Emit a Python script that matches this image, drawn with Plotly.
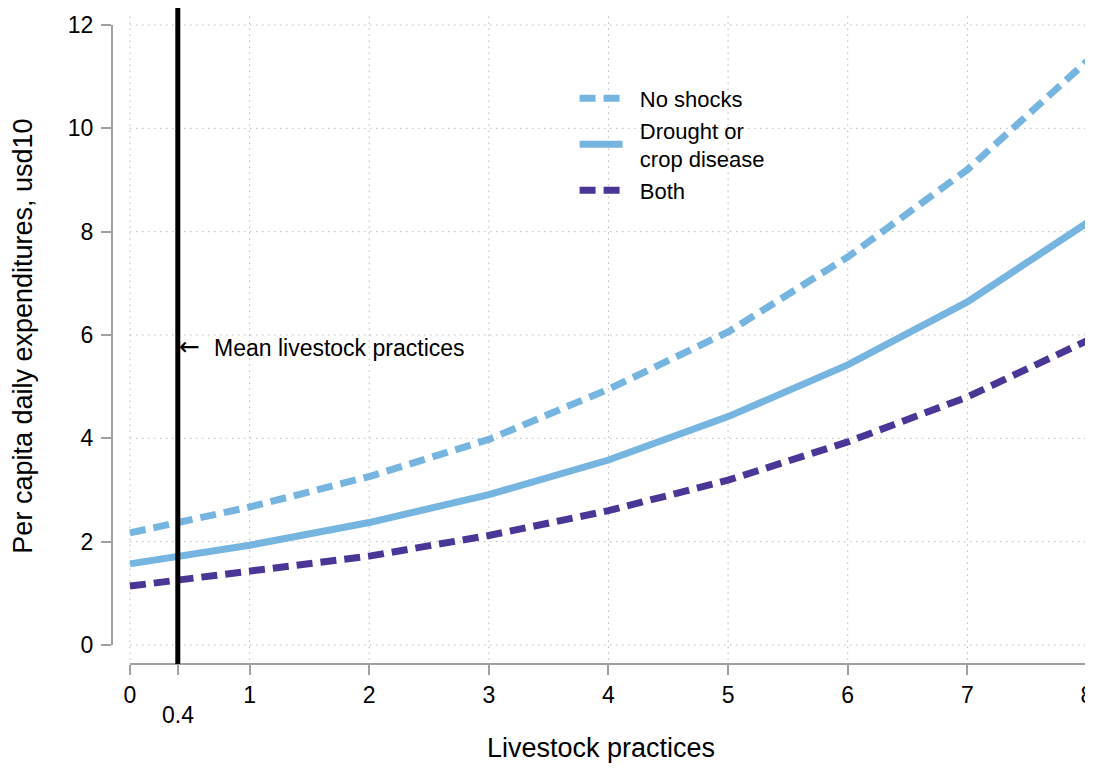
import plotly.graph_objects as go

# ---- data ----
x_vals = [0, 1, 2, 3, 4, 5, 6, 7, 8]
no_shocks = [2.17, 2.67, 3.26, 3.98, 4.95, 6.06, 7.51, 9.20, 11.30]
drought = [1.57, 1.93, 2.37, 2.91, 3.58, 4.42, 5.42, 6.64, 8.17]
both = [1.14, 1.42, 1.72, 2.12, 2.60, 3.19, 3.93, 4.80, 5.89]
series_names = ["No shocks", "Drought or<br>crop disease", "Both"]

x_ticks = [0, 1, 2, 3, 4, 5, 6, 7, 8]
y_ticks = [0, 2, 4, 6, 8, 10, 12]
mean_x = 0.4
mean_label = "Mean livestock practices"
mean_label_y = 5.75
x_title = "Livestock practices"
y_title = "Per capita daily expenditures, usd10"

# ---- styles ----
FONT = "Liberation Sans, Arial, sans-serif"
LIGHT = "#76b5e0"
DARK = "#4a3696"
AXIS_COL = "#a0a0a0"
GRID_COL = "#b8b8b8"
PAD = "\u00a0\u00a0"

def pad_name(n):
    return "<br>".join(PAD + part for part in n.split("<br>"))

fig = go.Figure()
fig.add_trace(go.Scatter(x=x_vals, y=no_shocks, mode="lines", name=pad_name(series_names[0]),
                         line=dict(color=LIGHT, width=7, dash="16px,8px")))
fig.add_trace(go.Scatter(x=x_vals, y=drought, mode="lines", name=pad_name(series_names[1]),
                         line=dict(color=LIGHT, width=7)))
fig.add_trace(go.Scatter(x=x_vals, y=both, mode="lines", name=pad_name(series_names[2]),
                         line=dict(color=DARK, width=7, dash="16px,8px")))

shapes = []
# grid lines
for yt in y_ticks:
    shapes.append(dict(type="line", xref="x", yref="y", x0=x_ticks[0], x1=x_ticks[-1], y0=yt, y1=yt,
                       line=dict(color=GRID_COL, width=1, dash="1.5px,4.5px"), layer="below"))
for xt in x_ticks:
    shapes.append(dict(type="line", xref="x", yref="y", x0=xt, x1=xt, y0=-0.29, y1=12.25,
                       line=dict(color=GRID_COL, width=1, dash="1.5px,4.5px"), layer="below"))
# axis lines spanning tick range
shapes.append(dict(type="line", xref="paper", yref="y", x0=0, x1=0, y0=y_ticks[0], y1=y_ticks[-1],
                   line=dict(color=AXIS_COL, width=2)))
shapes.append(dict(type="line", xref="x", yref="paper", x0=x_ticks[0], x1=x_ticks[-1], y0=0, y1=0,
                   line=dict(color=AXIS_COL, width=2)))
# mean line
shapes.append(dict(type="line", xref="x", yref="paper", x0=mean_x, x1=mean_x, y0=0, y1=1,
                   line=dict(color="black", width=5)))

annotations = [
    dict(x=mean_x, y=mean_label_y, xref="x", yref="y", xanchor="left", yanchor="middle",
         text="\u2190", showarrow=False, xshift=-1, yshift=1,
         font=dict(family="DejaVu Sans", size=25, color="black")),
    dict(x=mean_x, y=mean_label_y, xref="x", yref="y", xanchor="left", yanchor="middle",
         text=mean_label, showarrow=False, xshift=34,
         font=dict(family=FONT, size=23, color="black")),
    dict(x=mean_x, y=0, xref="x", yref="paper", xanchor="center", yanchor="top",
         text=str(mean_x), showarrow=False, yshift=-36,
         font=dict(family=FONT, size=23, color="black")),
]

fig.update_layout(
    width=1085, height=761,
    margin=dict(l=104, r=0, t=0, b=105),
    paper_bgcolor="white", plot_bgcolor="white",
    font=dict(family=FONT, color="black"),
    shapes=shapes, annotations=annotations,
    showlegend=True,
    legend=dict(x=0.473, y=0.894, xanchor="left", yanchor="top",
                font=dict(family=FONT, size=22, color="black"),
                bgcolor="rgba(0,0,0,0)", itemwidth=43, tracegroupgap=0),
    xaxis=dict(range=[-0.15, 8.025], tickvals=x_ticks + [mean_x], ticktext=[str(v) for v in x_ticks] + [""],
               showgrid=False, zeroline=False, showline=False, ticklabeloverflow="allow",
               ticks="outside", ticklen=10, tickwidth=2, tickcolor=AXIS_COL,
               tickfont=dict(family=FONT, size=23, color="black"),
               title=dict(text=x_title, font=dict(family=FONT, size=27, color="black"), standoff=31)),
    yaxis=dict(range=[-0.368, 12.329], tickvals=y_ticks, ticktext=[str(v) for v in y_ticks],
               showgrid=False, zeroline=False, showline=False, ticklabelstandoff=3,
               ticks="outside", ticklen=10, tickwidth=2, tickcolor=AXIS_COL,
               tickfont=dict(family=FONT, size=23, color="black"),
               title=dict(text=y_title, font=dict(family=FONT, size=27, color="black"), standoff=27)),
)

fig.write_html("out.html")
